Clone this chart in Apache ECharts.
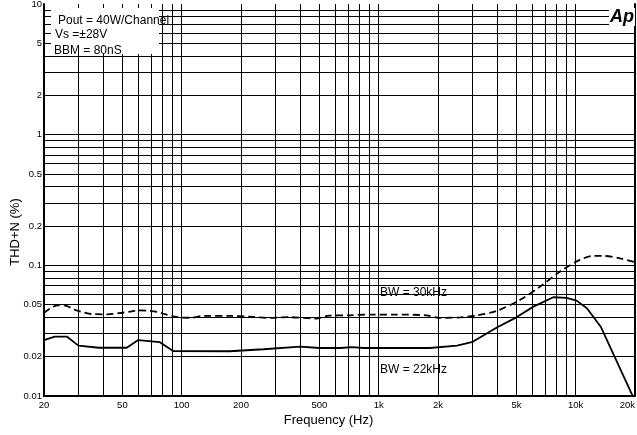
<!DOCTYPE html>
<html><head><meta charset="utf-8">
<script src="https://cdn.jsdelivr.net/npm/echarts@6/dist/echarts.min.js"></script>
<style>html,body{margin:0;padding:0;background:#fff}#c{width:637px;height:435px}</style>
</head><body><div id="c"></div>
<script>
const xGridValues = [20,30,40,50,60,70,80,90,100,200,300,400,500,600,700,800,900,1000,2000,3000,4000,5000,6000,7000,8000,9000,10000,20000];
const xLabelValues = [20,50,100,200,500,1000,2000,5000,10000,20000];
const yGridValues = [0.01,0.02,0.03,0.04,0.05,0.06,0.07,0.08,0.09,0.1,0.2,0.3,0.4,0.5,0.6,0.7,0.8,0.9,1,2,3,4,5,6,7,8,9];
const yLabelValues = [0.01,0.02,0.05,0.1,0.2,0.5,1,2,5,10];

const bw30Freq = [20,23.5,26,28.5,32,35,42,48,55,60,68,75,82,92,100,110,130,175,220,280,350,480,560,700,900,1200,1750,2050,2600,3150,4000,5200,6600,8300,10500,12300,13800,16800,20000];
const bw30Thd  = [0.0432,0.0495,0.049,0.0458,0.0435,0.0424,0.0422,0.043,0.0443,0.0452,0.0449,0.044,0.0423,0.0405,0.0398,0.0397,0.041,0.041,0.0405,0.0396,0.0401,0.0392,0.0412,0.0414,0.042,0.042,0.0414,0.0396,0.04,0.0414,0.045,0.0543,0.0687,0.0895,0.11,0.118,0.118,0.113,0.106];

const bw22Freq = [20,22.7,26.1,29.9,38,52.6,60.2,77.5,90.5,175,260,400,500,640,730,840,1820,2500,3000,4000,5000,6100,7700,9000,10100,11400,13400,19400];
const bw22Thd  = [0.0268,0.0285,0.0285,0.0243,0.0234,0.0234,0.0268,0.0258,0.0221,0.022,0.0228,0.0239,0.0233,0.0233,0.0237,0.0233,0.0233,0.0243,0.026,0.0336,0.04,0.0483,0.057,0.0563,0.0537,0.0469,0.0339,0.0101];

const FONT = 'Liberation Sans, Arial, sans-serif';
const pair = (xs, ys) => xs.map((x, i) => [x, ys[i]]);
const fmtNum = v => Number(Number(v).toPrecision(6));
const fmtX = v => { v = fmtNum(v); return v >= 1000 ? (v / 1000) + 'k' : String(v); };
const fmtY = v => String(fmtNum(v));

const chart = echarts.init(document.getElementById('c'), null, {renderer: 'canvas'});
chart.setOption({
  animation: false,
  backgroundColor: '#fff',
  grid: {left: 44, right: 2, top: 4, bottom: 39, containLabel: false, outerBoundsMode: 'none'},
  xAxis: {
    type: 'log', logBase: 10, min: 20, max: 20000,
    name: 'Frequency (Hz)', nameLocation: 'middle', nameGap: 18, nameMoveOverlap: false,
    nameTextStyle: {fontFamily: FONT, fontSize: 13, color: '#000', padding: [0, 22, 0, 0]},
    axisLine: {show: true, lineStyle: {color: '#000', width: 2}},
    axisTick: {show: false, customValues: xGridValues},
    axisLabel: {customValues: xLabelValues, formatter: fmtX, fontFamily: FONT, fontSize: 9.5, color: '#000', margin: 4, hideOverlap: false, showMinLabel: true, showMaxLabel: true, alignMaxLabel: 'right'},
    splitLine: {show: true, lineStyle: {color: '#000', width: 1}},
    minorSplitLine: {show: false}
  },
  yAxis: [{
    type: 'log', logBase: 10, min: 0.01, max: 10,
    name: 'THD+N (%)', nameLocation: 'middle', nameGap: 22, nameRotate: 90, nameMoveOverlap: false,
    nameTextStyle: {fontFamily: FONT, fontSize: 13, color: '#000', padding: [0, 64, 0, 0]},
    axisLine: {show: true, lineStyle: {color: '#000', width: 2}},
    axisTick: {show: false, customValues: yGridValues},
    axisLabel: {customValues: yLabelValues, formatter: fmtY, fontFamily: FONT, fontSize: 9.5, color: '#000', margin: 2, hideOverlap: false, showMinLabel: true, showMaxLabel: true},
    splitLine: {show: true, lineStyle: {color: '#000', width: 1}}
  }, {
    type: 'log', logBase: 10, min: 0.01, max: 10, position: 'right',
    axisLine: {show: true, lineStyle: {color: '#000', width: 2}},
    axisTick: {show: false}, axisLabel: {show: false}, splitLine: {show: false}
  }],
  series: [{
    name: 'BW = 30kHz', type: 'line', data: pair(bw30Freq, bw30Thd),
    showSymbol: false, smooth: 0.3, clip: true,
    lineStyle: {color: '#000', width: 1.8, type: [7, 4]}
  }, {
    name: 'BW = 22kHz', type: 'line', data: pair(bw22Freq, bw22Thd),
    showSymbol: false, smooth: false, clip: true,
    lineStyle: {color: '#000', width: 1.8}
  }],
  graphic: [
    {type: 'rect', left: 51, top: 8, shape: {width: 108, height: 46}, style: {fill: '#fff'}, z: 10},
    {type: 'text', left: 58, top: 15, style: {text: 'Pout = 40W/Channel', font: '12px ' + FONT, fill: '#000'}, z: 11},
    {type: 'text', left: 55, top: 29, style: {text: 'Vs =±28V', font: '12px ' + FONT, fill: '#000'}, z: 11},
    {type: 'text', left: 54, top: 45, style: {text: 'BBM = 80nS', font: '12px ' + FONT, fill: '#000'}, z: 11},
    {type: 'text', right: 2, top: 8, style: {text: 'Ap', font: 'italic bold 18px ' + FONT, fill: '#000', backgroundColor: '#fff', padding: [0, 1]}, z: 11},
    {type: 'text', left: 380, top: 287, style: {text: 'BW = 30kHz', font: '12px ' + FONT, fill: '#000'}, z: 11},
    {type: 'text', left: 380, top: 364, style: {text: 'BW = 22kHz', font: '12px ' + FONT, fill: '#000'}, z: 11}
  ]
});
</script></body></html>
